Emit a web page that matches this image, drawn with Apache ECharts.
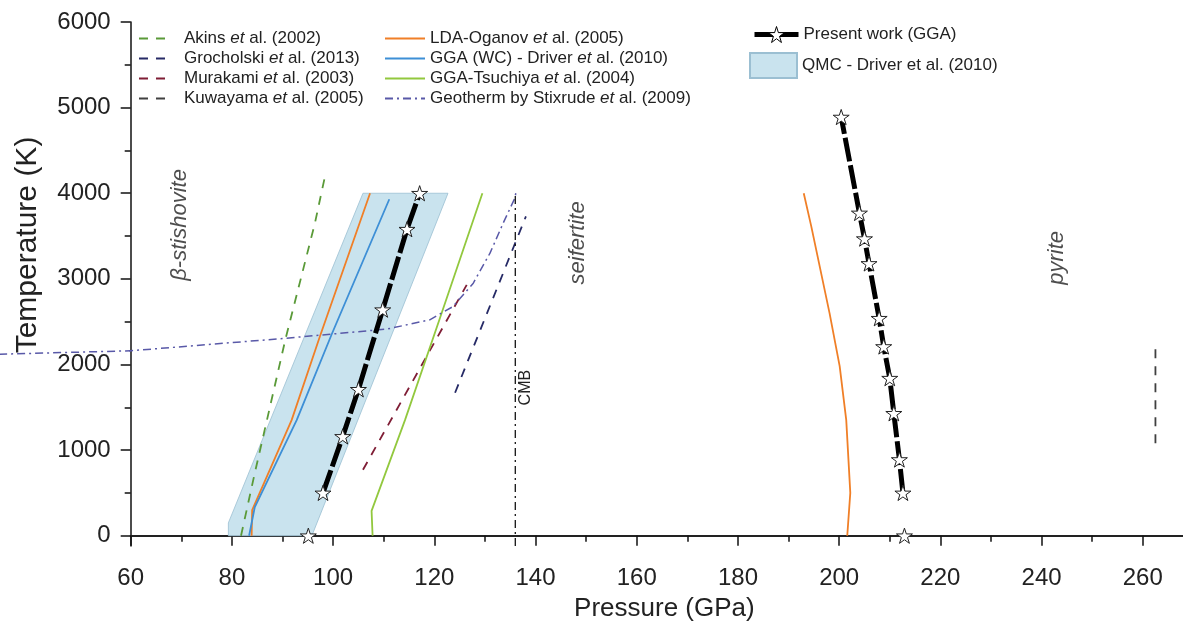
<!DOCTYPE html>
<html><head><meta charset="utf-8">
<script src="https://cdn.jsdelivr.net/npm/echarts@6/dist/echarts.min.js"></script>
<style>html,body{margin:0;padding:0;background:#fff}#c{width:1183px;height:630px}</style>
</head><body><div id="c"></div>
<script>
// ---------- data (Pressure in GPa, Temperature in K) ----------
const yTickValues = [0, 1000, 2000, 3000, 4000, 5000, 6000];
const yMinorValues = [500, 1500, 2500, 3500, 4500, 5500];

const akinsP = [81.8, 84.4, 90.6, 96.4, 98.4];
const akinsT = [0, 700, 2300, 3650, 4200];
const grocholskiP = [124.1, 138.1];
const grocholskiT = [1670, 3730];
const murakamiP = [105.9, 126.4];
const murakamiT = [770, 2930];
const kuwayamaP = [262.5, 262.5];
const kuwayamaT = [1080, 2230];

const ldaLowP = [83.9, 84.0, 91.8, 97.4, 107.3];
const ldaLowT = [0, 300, 1350, 2330, 4000];
const ldaHighP = [201.6, 202.2, 201.4, 200.1, 198.1, 194.5, 193.0];
const ldaHighT = [0, 500, 1350, 1980, 2600, 3610, 4000];

const driverP = [83.4, 84.5, 92.8, 99.7, 111.1];
const driverT = [0, 330, 1350, 2350, 3930];
const tsuchiyaP = [107.8, 107.6, 114.2, 121.1, 129.5];
const tsuchiyaT = [0, 290, 1350, 2540, 4000];

const geothermP = [34.0, 60.0, 90.8, 110.6, 119.1, 123.7, 127.7, 131.0, 133.6, 135.9, 136.1];
const geothermT = [2120, 2160, 2307, 2413, 2521, 2677, 2950, 3300, 3650, 3942, 4000];

const presentLowP = [95.1, 98.0, 101.9, 105.0, 109.8, 114.6, 117.1];
const presentLowT = [0, 500, 1160, 1710, 2640, 3580, 4000];
const presentHighP = [212.9, 212.6, 211.9, 210.8, 210.0, 208.8, 207.9, 205.9, 205.0, 204.0, 200.4];
const presentHighT = [0, 500, 890, 1430, 1840, 2210, 2540, 3180, 3470, 3770, 4890];

const qmcP = [79.3, 79.3, 105.9, 122.7, 95.8];
const qmcT = [0, 150, 4000, 4000, 0];

const cmbP = [136, 136];
const cmbT = [-120, 4000];

const phaseNames = ['β-stishovite', 'seifertite', 'pyrite'];
const phaseP = [69.7, 148.3, 243.0];
const phaseT = [3630, 3420, 3245];
const cmbLabelT = 1730;

// ---------- helpers ----------
const FONT = 'Liberation Sans, Arial, Helvetica, sans-serif';
const BR = ['-', '-'];
function pts(P, T) { return P.map((p, i) => [p, T[i]]); }
const starPath = 'path://M50,2 L61.2,36.6 L97.6,36.6 L68.2,58 L79.4,92.6 L50,71.2 L20.6,92.6 L31.8,58 L2.4,36.6 L38.8,36.6 Z';

const presentLow = pts(presentLowP, presentLowT);
const presentHigh = pts(presentHighP, presentHighT);
const presentData = [presentLow[0], BR].concat(presentLow.slice(1), [BR, presentHigh[0], BR], presentHigh.slice(1));
const ldaData = pts(ldaLowP, ldaLowT).concat([BR], pts(ldaHighP, ldaHighT));

const X_MIN = 60, X_MAX = 280;
const gridLeft = 130.7, gridRight = -61, gridTop = 22, gridBottom = 84;
const gridWidth = 1183 - gridLeft - gridRight;
const GEO_COLOR = '#5959a8', GEO_DASH = [8, 4, 2, 4];

function lineSeries(name, data, color, type, width) {
  return {
    name: name, type: 'line', data: data, symbol: 'none', z: 3,
    lineStyle: { color: color, type: type, width: width || 1.8 },
    itemStyle: { color: color }
  };
}

const richLegend = {
  fontSize: 17, fontFamily: FONT, color: '#222', lineHeight: 17,
  rich: { i: { fontStyle: 'italic', fontSize: 17, fontFamily: FONT, color: '#222', lineHeight: 17 } }
};
const richLegendPad = Object.assign({}, richLegend, { padding: [0, 0, 0, 10] });
function etFormatter(name) { return name.replace(' et al.', ' {i|et} al.'); }

const chart = echarts.init(document.getElementById('c'), null, { renderer: 'canvas' });
const option = {
  animation: false,
  backgroundColor: '#fff',
  grid: { left: gridLeft, right: gridRight, top: gridTop, bottom: gridBottom, outerBoundsMode: 'none', containLabel: false },
  xAxis: [{
    type: 'value', min: X_MIN, max: X_MAX, interval: 20, position: 'bottom',
    axisLine: { lineStyle: { color: '#111', width: 1.5 } },
    axisTick: { length: 10, lineStyle: { color: '#111', width: 1.5 } },
    minorTick: { show: true, splitNumber: 2, length: 6, lineStyle: { color: '#111', width: 1.5 } },
    axisLabel: { margin: 20, fontSize: 24, color: '#222', fontFamily: FONT, formatter: v => String(v) },
    splitLine: { show: false },
    name: 'Pressure (GPa)', nameLocation: 'middle', nameGap: 50,
    nameTextStyle: { fontSize: 26, color: '#222', fontFamily: FONT, padding: [0, 46, 0, 0] }
  }, {
    type: 'value', min: X_MIN, max: X_MAX, position: 'top',
    axisLine: { lineStyle: { color: '#222', width: 2 } },
    axisTick: { show: false }, axisLabel: { show: false }, splitLine: { show: false }
  }],
  yAxis: [{
    type: 'value', min: -120, max: 6000, position: 'left',
    axisLine: { show: true, lineStyle: { color: '#111', width: 1.5 } },
    axisTick: { show: true, customValues: yTickValues, length: 10, lineStyle: { color: '#111', width: 1.5 } },
    axisLabel: { customValues: yTickValues, margin: 20, fontSize: 24, color: '#222', fontFamily: FONT, formatter: v => String(v) },
    splitLine: { show: false },
    name: 'Temperature (K)', nameLocation: 'middle', nameGap: 88,
    nameTextStyle: { fontSize: 30, color: '#222', fontFamily: FONT, padding: [0, 0, 0, 78] }
  }, {
    type: 'value', min: -120, max: 6000, position: 'right', offset: -gridWidth,
    axisLine: { show: false },
    axisTick: { show: true, inside: true, customValues: yMinorValues, length: 6, lineStyle: { color: '#111', width: 1.5 } },
    axisLabel: { show: false }, splitLine: { show: false }
  }],
  legend: [{
    orient: 'vertical', left: 133, top: 25, itemWidth: 30, itemHeight: 12, itemGap: 3,
    data: ['Akins et al. (2002)', 'Grocholski et al. (2013)', 'Murakami et al. (2003)', 'Kuwayama et al. (2005)'],
    textStyle: richLegendPad, formatter: etFormatter, lineStyle: { width: 2 }, itemStyle: { opacity: 0 }, selectedMode: false
  }, {
    orient: 'vertical', left: 379, top: 25, itemWidth: 40, itemHeight: 12, itemGap: 3,
    data: ['LDA-Oganov et al. (2005)', 'GGA (WC) - Driver et al. (2010)', 'GGA-Tsuchiya et al. (2004)', 'Geotherm by Stixrude et al. (2009)'],
    textStyle: richLegend, formatter: etFormatter, lineStyle: { width: 2 }, itemStyle: { opacity: 0 }, selectedMode: false
  }, {
    orient: 'vertical', left: 747, top: 21, itemWidth: 44, itemHeight: 20, itemGap: 3,
    data: ['Present work (GGA)'], textStyle: richLegend, lineStyle: { width: 5, type: 'solid' },
    itemStyle: { color: '#fff', borderColor: '#000', borderWidth: 1 }, selectedMode: false
  }, {
    orient: 'vertical', left: 744, top: 47, itemWidth: 47, itemHeight: 25,
    data: [{ name: 'QMC - Driver et al. (2010)', icon: 'rect' }], textStyle: richLegend, selectedMode: false
  }],
  series: [
    {
      name: 'QMC - Driver et al. (2010)', type: 'custom', z: 1,
      data: pts(qmcP, qmcT),
      itemStyle: { color: '#c9e3ee', borderColor: '#9bbfd2', borderWidth: 0.8 },
      renderItem: function (params, api) {
        if (params.dataIndex !== 0) return null;
        const poly = qmcP.map((p, i) => api.coord([p, qmcT[i]]));
        return { type: 'polygon', shape: { points: poly },
          style: { fill: '#c9e3ee', stroke: '#9bbfd2', lineWidth: 0.8 } };
      }
    },
    lineSeries('Akins et al. (2002)', pts(akinsP, akinsT), '#5a9a38', [9, 8]),
    lineSeries('Grocholski et al. (2013)', pts(grocholskiP, grocholskiT), '#262a66', [9, 8]),
    lineSeries('Murakami et al. (2003)', pts(murakamiP, murakamiT), '#7f1d35', [9, 8]),
    lineSeries('Kuwayama et al. (2005)', pts(kuwayamaP, kuwayamaT), '#404040', [9, 8]),
    lineSeries('LDA-Oganov et al. (2005)', ldaData, '#f07f27', 'solid'),
    lineSeries('GGA (WC) - Driver et al. (2010)', pts(driverP, driverT), '#3d8fd6', 'solid'),
    lineSeries('GGA-Tsuchiya et al. (2004)', pts(tsuchiyaP, tsuchiyaT), '#92c83e', 'solid'),
    lineSeries('Geotherm by Stixrude et al. (2009)', pts(geothermP, geothermT), GEO_COLOR, GEO_DASH, 1.5),
    {
      // part of the geotherm lying below the axis minimum (drawn outside the plot, as in the source figure)
      name: 'geotherm-outside', type: 'custom', z: 3, clip: false, silent: true,
      data: pts(geothermP, geothermT),
      renderItem: function (params, api) {
        if (params.dataIndex !== 0) return null;
        const outside = [];
        geothermP.forEach((p, i) => { if (p <= X_MIN) outside.push(api.coord([p, geothermT[i]])); });
        return { type: 'polyline', shape: { points: outside },
          style: { stroke: GEO_COLOR, lineWidth: 1.5, lineDash: GEO_DASH, fill: null } };
      }
    },
    Object.assign(lineSeries('CMB', pts(cmbP, cmbT), '#111', [8, 4, 2, 4], 1.3), {
      markPoint: {
        symbol: 'circle', symbolSize: 0,
        data: [{ coord: [cmbP[0], cmbLabelT], label: { show: true, formatter: 'CMB', rotate: 90, offset: [0, 10],
          fontSize: 16, color: '#222', fontFamily: FONT } }]
      }
    }),
    {
      name: 'Present work (GGA)', type: 'line', z: 5, data: presentData,
      symbol: starPath, symbolSize: 16, symbolKeepAspect: true, showSymbol: true,
      lineStyle: { color: '#000', width: 5, type: [24, 4] },
      itemStyle: { color: '#fff', borderColor: '#222', borderWidth: 1 }
    },
    {
      name: 'phase labels', type: 'scatter', z: 6, symbolSize: 0, silent: true,
      data: phaseNames.map((n, i) => ({ name: n, value: [phaseP[i], phaseT[i]] })),
      label: { show: true, position: 'inside', formatter: '{b}', rotate: 90, fontSize: 22,
        fontStyle: 'italic', color: '#222', fontFamily: FONT }
    }
  ]
};
chart.setOption(option);
</script>
</body></html>
